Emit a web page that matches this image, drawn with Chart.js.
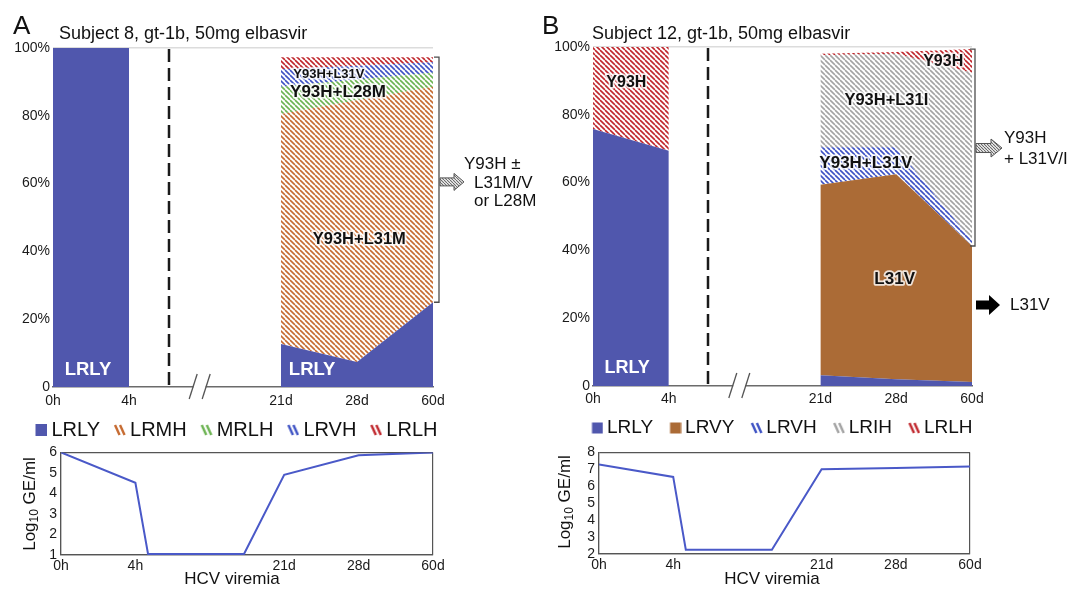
<!DOCTYPE html>
<html>
<head>
<meta charset="utf-8">
<script src="https://cdn.jsdelivr.net/npm/chart.js@4.4.1/dist/chart.umd.min.js"></script>
<style>
  html, body { margin: 0; padding: 0; background: #ffffff; }
  body { width: 1069px; height: 590px; position: relative; overflow: hidden; }
  .pane { position: absolute; }
  canvas { display: block; }
</style>
</head>
<body>
<div class="pane" style="left:0;top:0"><canvas id="aTop" width="540" height="455"></canvas></div>
<div class="pane" style="left:540px;top:0"><canvas id="bTop" width="529" height="455"></canvas></div>
<div class="pane" style="left:0;top:440px"><canvas id="aBot" width="540" height="150"></canvas></div>
<div class="pane" style="left:540px;top:440px"><canvas id="bBot" width="529" height="150"></canvas></div>
<script>
// ---------------- data ----------------
const xTickPos = [0, 1, 3, 4, 5];
const xTickLabels = ['0h', '4h', '21d', '28d', '60d'];
const earlyX = [0, 1];
const lateX = [3, 4, 5];
const pctTicks = [0, 20, 40, 60, 80, 100];
const pctTickLabels = ['0', '20%', '40%', '60%', '80%', '100%'];

// Panel A – Subject 8 (% of population)
const aTitle = 'Subject 8, gt-1b, 50mg elbasvir';
const aEarlyLRLY = [100, 100];
const aLateLRLY = [12.7, 7.4, 25.0];
const aLateLRMH = [67.8, 77.2, 63.6];
const aLateMRLH = [8.1, 6.1, 4.1];
const aLateLRVH = [5.1, 4.1, 3.1];
const aLateLRLH = [3.6, 2.5, 1.5];

// Panel B – Subject 12 (% of population)
const bTitle = 'Subject 12, gt-1b, 50mg elbasvir';
const bEarlyLRLY = [75.8, 69.4];
const bEarlyLRLH = [24.2, 30.6];
const bLateLRLY = [3.2, 2.0, 1.2];
const bLateLRVY = [56.2, 60.5, 40.1];
const bLateLRVH = [11.0, 7.9, 1.5];
const bLateLRIH = [27.2, 27.6, 49.6];
const bLateLRLH = [0.4, 0.5, 7.0];

// HCV viremia (log10 GE/ml)
const aViremiaX = [0, 1, 1.17, 2.46, 3, 4, 5];
const aViremiaY = [6.0, 4.52, 1.05, 1.05, 4.91, 5.86, 6.0];
const aViremiaTicks = [1, 2, 3, 4, 5, 6];
const bViremiaX = [0, 1, 1.17, 2.33, 3, 4, 5];
const bViremiaY = [7.28, 6.55, 2.25, 2.25, 7.0, 7.08, 7.16];
const bViremiaTicks = [2, 3, 4, 5, 6, 7, 8];

// ---------------- styling ----------------
const FONT = '"Liberation Sans", Arial, Helvetica, sans-serif';
Chart.defaults.font.family = FONT;
Chart.defaults.color = '#1a1a1a';
const COL = {
  lrly: '#5057ad', lrmh: '#c66a30', mrlh: '#6cb352', lrvh: '#3e52c4',
  lrlh: '#c0262c', lrvy: '#ab6b36', lrih: '#a3a3a3', line: '#4a59c8'
};

function hatchTile(color, period, lw) {
  const c = document.createElement('canvas');
  c.width = period; c.height = period;
  const g = c.getContext('2d');
  g.fillStyle = '#ffffff'; g.fillRect(0, 0, period, period);
  g.strokeStyle = color; g.lineWidth = lw;
  for (const o of [-period, 0, period]) {
    g.beginPath(); g.moveTo(o, 0); g.lineTo(o + period, period); g.stroke();
  }
  return c;
}
function hatch(ctx, color, period, lw) {
  return ctx.createPattern(hatchTile(color, period || 5, lw || 1.6), 'repeat');
}
// icon canvas is (boxW + 12) wide; the 12px mark sits at its right end
function legendIcon(color, solid, size, boxW) {
  const c = document.createElement('canvas');
  c.width = boxW + 12; c.height = 14;
  const g = c.getContext('2d');
  const s = size || 12;
  const x0 = c.width - 12;
  if (solid) {
    g.fillStyle = color; g.fillRect(x0 + (12 - s) / 2, 7 - s / 2, s, s);
  } else {
    g.strokeStyle = color; g.lineWidth = 2.4;
    g.beginPath(); g.moveTo(x0 + 1, 2); g.lineTo(x0 + 5.5, 12); g.stroke();
    g.beginPath(); g.moveTo(x0 + 6, 2); g.lineTo(x0 + 10.5, 12); g.stroke();
  }
  return c;
}

function drawText(ctx, t, x, y, font, color, opt) {
  opt = opt || {};
  ctx.save();
  ctx.font = font;
  ctx.textAlign = opt.align || 'center';
  ctx.textBaseline = opt.baseline || 'middle';
  if (opt.halo) {
    ctx.lineJoin = 'round';
    ctx.strokeStyle = 'rgba(255,255,255,0.8)';
    ctx.lineWidth = 3.5;
    ctx.strokeText(t, x, y);
  }
  ctx.fillStyle = color;
  ctx.fillText(t, x, y);
  ctx.restore();
}
function blockArrow(ctx, x, y, a) {
  const hb = a.body / 2, hh = a.head / 2, xb = x + a.len - a.headLen;
  ctx.beginPath();
  ctx.moveTo(x, y - hb); ctx.lineTo(xb, y - hb); ctx.lineTo(xb, y - hh);
  ctx.lineTo(x + a.len, y); ctx.lineTo(xb, y + hh); ctx.lineTo(xb, y + hb);
  ctx.lineTo(x, y + hb); ctx.closePath();
  ctx.fillStyle = a.fill; ctx.fill();
  if (a.stroke) { ctx.strokeStyle = a.stroke; ctx.lineWidth = 1; ctx.stroke(); }
}

function topDecor(cfg) {
  return {
    id: 'topDecor',
    afterDatasetsDraw(chart) {
      const { ctx, chartArea: ca, scales: { x, y } } = chart;
      ctx.save();
      // dashed divider
      const dx = Math.round(x.getPixelForValue(cfg.dashAt));
      ctx.strokeStyle = '#1a1a1a'; ctx.lineWidth = 2.5; ctx.setLineDash([13, 6]);
      ctx.beginPath(); ctx.moveTo(dx, ca.top + 1); ctx.lineTo(dx, ca.bottom); ctx.stroke();
      ctx.setLineDash([]);
      // axis break
      const bx = x.getPixelForValue(cfg.breakAt), by = ca.bottom;
      ctx.fillStyle = '#ffffff'; ctx.fillRect(bx - 6, by - 2, 12, 4);
      ctx.strokeStyle = '#555555'; ctx.lineWidth = 1.3;
      for (const o of [-6.5, 6.5]) {
        ctx.beginPath(); ctx.moveTo(bx + o - 4, by + 12); ctx.lineTo(bx + o + 4, by - 13); ctx.stroke();
      }
      // in-plot labels
      cfg.labels.forEach(l => drawText(ctx, l.t, x.getPixelForValue(l.x), y.getPixelForValue(l.y),
        'bold ' + l.size + 'px ' + FONT, l.color, { halo: l.color !== '#ffffff' }));
      // bracket
      const lastPt = i => { const d = chart.getDatasetMeta(i).data; return d[d.length - 1]; };
      const top = lastPt(cfg.bracketTop).y, bot = lastPt(cfg.bracketBottom).y;
      const rx = ca.right + cfg.bracketGap;
      ctx.strokeStyle = '#4d4d4d'; ctx.lineWidth = 1.3;
      ctx.beginPath(); ctx.moveTo(rx - 5, top); ctx.lineTo(rx, top); ctx.lineTo(rx, bot); ctx.lineTo(rx - 5, bot); ctx.stroke();
      // arrows
      cfg.arrows.forEach(a => blockArrow(ctx, rx + 1, y.getPixelForValue(a.y), a));
      // notes beside arrows
      cfg.notes.forEach(n => drawText(ctx, n.t, n.x, n.y, '17px ' + FONT, '#111111', { align: 'left' }));
      // panel letter and title
      drawText(ctx, cfg.letter, cfg.letterX, 34, '26px ' + FONT, '#111111', { align: 'left', baseline: 'alphabetic' });
      drawText(ctx, cfg.title, cfg.titleX, 34, '18px ' + FONT, '#111111', { align: 'left' });
      ctx.restore();
    }
  };
}

function topChart(id, cfg) {
  const canvas = document.getElementById(id);
  const datasets = cfg.sets.map(s => ({
    label: s.name,
    stack: s.group,
    data: s.xs.map((xv, i) => ({ x: xv, y: s.ys[i] })),
    backgroundColor: s.fill,
    borderColor: 'rgba(0,0,0,0)',
    borderWidth: 0,
    pointRadius: 0, pointHoverRadius: 0, pointHitRadius: 0,
    fill: s.first ? 'origin' : '-1',
    tension: 0,
    legendIcon: s.icon,
    inLegend: s.legend
  }));
  return new Chart(canvas, {
    type: 'line',
    data: { datasets },
    options: {
      responsive: false, animation: false, events: [],
      layout: { padding: cfg.padding },
      scales: {
        x: {
          type: 'linear', min: 0, max: 5,
          afterBuildTicks: sc => { sc.ticks = xTickPos.map(v => ({ value: v })); },
          afterFit: sc => { sc.height = cfg.xAxisH; },
          ticks: { autoSkip: false, maxRotation: 0, padding: cfg.xTickPad, font: { size: 14 }, color: '#1a1a1a',
                   callback: v => xTickLabels[xTickPos.indexOf(v)] },
          grid: { display: false, drawTicks: false },
          border: { display: true, color: '#6b6b6b', width: 1.5 }
        },
        y: {
          stacked: true, min: 0, max: 100,
          afterBuildTicks: sc => { sc.ticks = pctTicks.map(v => ({ value: v })); },
          afterFit: sc => { sc.width = cfg.yAxisW; },
          ticks: { autoSkip: false, padding: 3, font: { size: 14 }, color: '#1a1a1a',
                   callback: v => pctTickLabels[pctTicks.indexOf(v)] },
          grid: { drawTicks: false, lineWidth: 1.5,
                  color: c => (c.tick && c.tick.value === 100) ? '#dcdcdc' : 'rgba(0,0,0,0)' },
          border: { display: false }
        },
        side: {
          type: 'linear', position: 'right', min: 0, max: 1,
          afterFit: sc => { sc.width = cfg.rightW; },
          ticks: { display: false },
          grid: { display: false, drawTicks: false },
          border: { display: false }
        }
      },
      plugins: {
        tooltip: { enabled: false },
        legend: {
          position: 'bottom',
          labels: {
            usePointStyle: true, pointStyleWidth: cfg.legendBox, padding: cfg.legendPad,
            font: { size: cfg.legendFont }, color: '#111111',
            generateLabels: ch => ch.data.datasets.map((d, i) => ({
              text: d.label, pointStyle: d.legendIcon, datasetIndex: i, hidden: false,
              lineWidth: 0, fillStyle: 'rgba(0,0,0,0)', strokeStyle: 'rgba(0,0,0,0)', fontColor: '#111111'
            })),
            filter: (item, data) => data.datasets[item.datasetIndex].inLegend
          }
        }
      }
    },
    plugins: [topDecor(cfg)]
  });
}

function bottomDecor(cfg) {
  return {
    id: 'bottomDecor',
    afterDraw(chart) {
      const ctx = chart.ctx;
      ctx.save();
      ctx.translate(cfg.yTitleX, cfg.yTitleY);
      ctx.rotate(-Math.PI / 2);
      const big = '17px ' + FONT, small = '12px ' + FONT;
      ctx.font = big;
      const w1 = ctx.measureText('Log').width, w3 = ctx.measureText(' GE/ml').width;
      ctx.font = small;
      const w2 = ctx.measureText('10').width;
      let x0 = -(w1 + w2 + w3) / 2;
      ctx.fillStyle = '#111111'; ctx.textBaseline = 'middle'; ctx.textAlign = 'left';
      ctx.font = big; ctx.fillText('Log', x0, 0); x0 += w1;
      ctx.font = small; ctx.fillText('10', x0, 5); x0 += w2;
      ctx.font = big; ctx.fillText(' GE/ml', x0, 0);
      ctx.restore();
      drawText(ctx, 'HCV viremia', cfg.xTitleX, cfg.xTitleY, '17px ' + FONT, '#111111');
    }
  };
}

function viremiaChart(id, cfg) {
  const yT = cfg.yTicks, lo = yT[0], hi = yT[yT.length - 1];
  return new Chart(document.getElementById(id), {
    type: 'line',
    data: { datasets: [{
      label: 'HCV viremia',
      data: cfg.xs.map((xv, i) => ({ x: xv, y: cfg.ys[i] })),
      borderColor: COL.line, borderWidth: 2, pointRadius: 0, fill: false, tension: 0
    }] },
    options: {
      responsive: false, animation: false, events: [],
      layout: { padding: cfg.padding },
      scales: {
        x: {
          type: 'linear', min: 0, max: 5,
          afterBuildTicks: sc => { sc.ticks = xTickPos.map(v => ({ value: v })); },
          afterFit: sc => { sc.height = cfg.xAxisH; },
          ticks: { autoSkip: false, maxRotation: 0, padding: 3, font: { size: 14 }, color: '#1a1a1a',
                   callback: v => xTickLabels[xTickPos.indexOf(v)] },
          grid: { drawTicks: false, lineWidth: 1.2,
                  color: c => (c.tick && (c.tick.value === 0 || c.tick.value === 5)) ? '#555555' : 'rgba(0,0,0,0)' },
          border: { display: true, color: '#555555', width: 1.2 }
        },
        y: {
          min: lo, max: hi,
          afterBuildTicks: sc => { sc.ticks = yT.map(v => ({ value: v })); },
          afterFit: sc => { sc.width = cfg.yAxisW; },
          ticks: { autoSkip: false, padding: 4, font: { size: 14 }, color: '#1a1a1a' },
          grid: { drawTicks: false, lineWidth: 1.2,
                  color: c => (c.tick && (c.tick.value === lo || c.tick.value === hi)) ? '#555555' : 'rgba(0,0,0,0)' },
          border: { display: true, color: '#555555', width: 1.2 }
        }
      },
      plugins: { legend: { display: false }, tooltip: { enabled: false } }
    },
    plugins: [bottomDecor(cfg)]
  });
}

// ---------------- Panel A ----------------
const aCtx = document.getElementById('aTop').getContext('2d');
const aBox = 10;
topChart('aTop', {
  padding: { top: 48, left: 8, right: 79, bottom: 5 },
  yAxisW: 45, rightW: 28, xAxisH: 23, xTickPad: 6,
  legendPad: 10, legendFont: 20, legendBox: aBox,
  sets: [
    { name: 'LRLY', group: 'early', xs: earlyX, ys: aEarlyLRLY, fill: COL.lrly, first: true, legend: false },
    { name: 'LRLY', group: 'late', xs: lateX, ys: aLateLRLY, fill: COL.lrly, first: true, legend: true, icon: legendIcon(COL.lrly, true, 12, aBox) },
    { name: 'LRMH', group: 'late', xs: lateX, ys: aLateLRMH, fill: hatch(aCtx, COL.lrmh), legend: true, icon: legendIcon(COL.lrmh, false, 12, aBox) },
    { name: 'MRLH', group: 'late', xs: lateX, ys: aLateMRLH, fill: hatch(aCtx, COL.mrlh), legend: true, icon: legendIcon(COL.mrlh, false, 12, aBox) },
    { name: 'LRVH', group: 'late', xs: lateX, ys: aLateLRVH, fill: hatch(aCtx, COL.lrvh), legend: true, icon: legendIcon(COL.lrvh, false, 12, aBox) },
    { name: 'LRLH', group: 'late', xs: lateX, ys: aLateLRLH, fill: hatch(aCtx, COL.lrlh), legend: true, icon: legendIcon(COL.lrlh, false, 12, aBox) }
  ],
  dashAt: 1.52, breakAt: 1.93,
  bracketTop: 5, bracketBottom: 1, bracketGap: 6,
  labels: [
    { t: 'LRLY', x: 0.46, y: 5.0, size: 18.5, color: '#ffffff' },
    { t: 'LRLY', x: 3.41, y: 5.0, size: 18.5, color: '#ffffff' },
    { t: 'Y93H+L31V', x: 3.63, y: 92.3, size: 13, color: '#111111' },
    { t: 'Y93H+L28M', x: 3.75, y: 87.0, size: 17, color: '#111111' },
    { t: 'Y93H+L31M', x: 4.03, y: 43.4, size: 16.5, color: '#111111' }
  ],
  arrows: [
    { y: 60.5, len: 24, body: 8, head: 17, headLen: 10, fill: hatch(aCtx, '#666666', 3, 1.1), stroke: '#555555' }
  ],
  notes: [
    { t: 'Y93H \u00b1', x: 464, y: 164 },
    { t: 'L31M/V', x: 474, y: 183 },
    { t: 'or L28M', x: 474, y: 201 }
  ],
  letter: 'A', letterX: 13, title: aTitle, titleX: 59
});

viremiaChart('aBot', {
  xs: aViremiaX, ys: aViremiaY, yTicks: aViremiaTicks,
  padding: { top: 11, left: 40, right: 107, bottom: 0 },
  yAxisW: 21, xAxisH: 35,
  yTitleX: 30, yTitleY: 64, xTitleX: 232, xTitleY: 139
});

// ---------------- Panel B ----------------
const bCtx = document.getElementById('bTop').getContext('2d');
const bBox = 13;
topChart('bTop', {
  padding: { top: 47, left: 8, right: 60, bottom: 7.5 },
  yAxisW: 45, rightW: 37, xAxisH: 23, xTickPad: 5,
  legendPad: 9.5, legendFont: 19, legendBox: bBox,
  sets: [
    { name: 'LRLY', group: 'early', xs: earlyX, ys: bEarlyLRLY, fill: COL.lrly, first: true, legend: false },
    { name: 'LRLH', group: 'early', xs: earlyX, ys: bEarlyLRLH, fill: hatch(bCtx, COL.lrlh), legend: false },
    { name: 'LRLY', group: 'late', xs: lateX, ys: bLateLRLY, fill: COL.lrly, first: true, legend: true, icon: legendIcon(COL.lrly, true, 11, bBox) },
    { name: 'LRVY', group: 'late', xs: lateX, ys: bLateLRVY, fill: COL.lrvy, legend: true, icon: legendIcon(COL.lrvy, true, 11, bBox) },
    { name: 'LRVH', group: 'late', xs: lateX, ys: bLateLRVH, fill: hatch(bCtx, COL.lrvh), legend: true, icon: legendIcon(COL.lrvh, false, 12, bBox) },
    { name: 'LRIH', group: 'late', xs: lateX, ys: bLateLRIH, fill: hatch(bCtx, COL.lrih), legend: true, icon: legendIcon(COL.lrih, false, 12, bBox) },
    { name: 'LRLH', group: 'late', xs: lateX, ys: bLateLRLH, fill: hatch(bCtx, COL.lrlh), legend: true, icon: legendIcon(COL.lrlh, false, 12, bBox) }
  ],
  dashAt: 1.52, breakAt: 1.93,
  bracketTop: 6, bracketBottom: 3, bracketGap: 3,
  labels: [
    { t: 'Y93H', x: 0.44, y: 89.4, size: 16, color: '#111111' },
    { t: 'LRLY', x: 0.45, y: 5.3, size: 18, color: '#ffffff' },
    { t: 'Y93H+L31I', x: 3.87, y: 84.1, size: 16.5, color: '#111111' },
    { t: 'Y93H', x: 4.62, y: 95.6, size: 16, color: '#111111' },
    { t: 'Y93H+L31V', x: 3.6, y: 65.8, size: 17, color: '#111111' },
    { t: 'L31V', x: 3.98, y: 31.6, size: 17, color: '#111111' }
  ],
  arrows: [
    { y: 70.2, len: 26, body: 9, head: 18, headLen: 11, fill: hatch(bCtx, '#666666', 3, 1.1), stroke: '#555555' },
    { y: 23.9, len: 24, body: 9, head: 20, headLen: 11, fill: '#000000' }
  ],
  notes: [
    { t: 'Y93H', x: 464, y: 138 },
    { t: '+ L31V/I', x: 464, y: 159 },
    { t: 'L31V', x: 470, y: 305 }
  ],
  letter: 'B', letterX: 2, title: bTitle, titleX: 52
});

viremiaChart('bBot', {
  xs: bViremiaX, ys: bViremiaY, yTicks: bViremiaTicks,
  padding: { top: 10, left: 40, right: 99, bottom: 0 },
  yAxisW: 19, xAxisH: 36,
  yTitleX: 25, yTitleY: 62, xTitleX: 232, xTitleY: 139
});
</script>
</body>
</html>
